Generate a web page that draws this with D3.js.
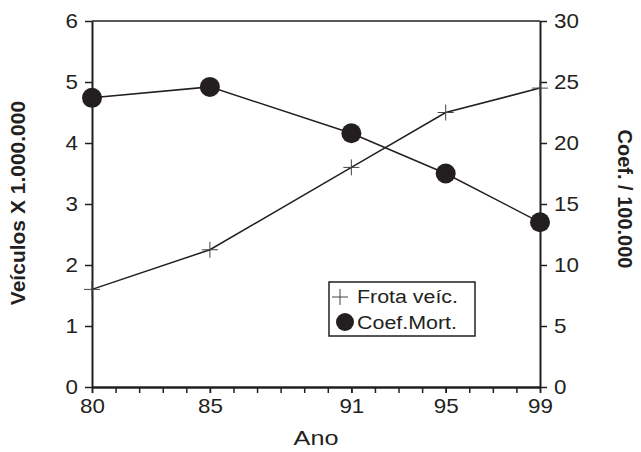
<!DOCTYPE html>
<html>
<head>
<meta charset="utf-8">
<script src="https://cdn.jsdelivr.net/npm/d3@7"></script>
<style>
  body { margin: 0; background: #fff; }
  text { font-family: 'Liberation Sans', Arial, sans-serif; fill: #231f20; }
</style>
</head>
<body>
<div id="chart"></div>
<script>
const years = [80, 85, 91, 95, 99]
const yearTicks = [80, 85, 91, 95, 99]
const frota = [1.6, 2.25, 3.6, 4.5, 4.9]         // veículos x 1.000.000
const coefMort = [23.7, 24.6, 20.8, 17.5, 13.5]  // coef. / 100.000

const width = 641
const height = 452
const margin = { top: 21, right: 101, bottom: 65, left: 92 }
const ink = '#231f20'
const stretch = 1.12 // the scanned figure is a bit wider than tall

const x = d3.scaleLinear()
  .domain([80, 99])
  .range([margin.left, width - margin.right])

const yLeft = d3.scaleLinear()
  .domain([0, 6])
  .range([height - margin.bottom, margin.top])

const yRight = d3.scaleLinear()
  .domain([0, 30])
  .range([height - margin.bottom, margin.top])

const svg = d3.select('#chart')
  .append('svg')
  .attr('width', width)
  .attr('height', height)

// top border
svg.append('line')
  .attr('x1', x(80)).attr('x2', x(99))
  .attr('y1', yLeft(6)).attr('y2', yLeft(6))
  .attr('stroke', ink).attr('stroke-width', 1.5)

const styleAxis = g => {
  g.select('.domain').attr('stroke', ink).attr('stroke-width', 2)
  g.selectAll('.tick line').attr('stroke', ink).attr('stroke-width', 1.5)
  g.selectAll('.tick text')
    .attr('font-size', 20)
    .attr('fill', ink)
    .attr('transform', `scale(${stretch}, 1)`)
}

// minor year ticks on x
svg.append('g')
  .attr('transform', `translate(0, ${yLeft(0)})`)
  .call(d3.axisBottom(x).tickValues(d3.range(80, 100)).tickSize(6).tickSizeOuter(0).tickFormat(''))
  .call(styleAxis)

svg.append('g')
  .attr('transform', `translate(0, ${yLeft(0)})`)
  .call(d3.axisBottom(x).tickValues(yearTicks).tickSize(6).tickSizeOuter(0).tickPadding(6))
  .call(styleAxis)

svg.append('g')
  .attr('transform', `translate(${x(80)}, 0)`)
  .call(d3.axisLeft(yLeft).ticks(6).tickSize(7).tickSizeOuter(0))
  .call(styleAxis)
  .call(g => g.selectAll('.tick text').attr('x', -14 / stretch))

svg.append('g')
  .attr('transform', `translate(${x(99)}, 0)`)
  .call(d3.axisRight(yRight).tickValues(d3.range(0, 31, 5)).tickSize(7).tickSizeOuter(0))
  .call(styleAxis)
  .call(g => g.selectAll('.tick text').attr('x', 14 / stretch))

// axis titles
svg.append('text')
  .attr('transform', `translate(${(x(80) + x(99)) / 2}, 445) scale(1.2, 1)`)
  .attr('text-anchor', 'middle')
  .attr('font-size', 21)
  .text('Ano')

svg.append('text')
  .attr('transform', `translate(25, ${yLeft(3) - 1}) rotate(-90)`)
  .attr('text-anchor', 'middle')
  .attr('font-size', 21)
  .attr('font-weight', 'bold')
  .text('Veículos X 1.000.000')

svg.append('text')
  .attr('transform', `translate(618, 199) rotate(90)`)
  .attr('text-anchor', 'middle')
  .attr('font-size', 20)
  .attr('font-weight', 'bold')
  .text('Coef. / 100.000')

// series
const frotaLine = d3.line()
  .x((d, i) => x(years[i]))
  .y(d => yLeft(d))

const coefLine = d3.line()
  .x((d, i) => x(years[i]))
  .y(d => yRight(d))

svg.append('path')
  .datum(frota)
  .attr('d', frotaLine)
  .attr('fill', 'none')
  .attr('stroke', ink)
  .attr('stroke-width', 1.5)

svg.append('path')
  .datum(coefMort)
  .attr('d', coefLine)
  .attr('fill', 'none')
  .attr('stroke', ink)
  .attr('stroke-width', 1.5)

const plus = (g, cx, cy, s) => {
  g.append('path')
    .attr('d', `M${cx - s},${cy}H${cx + s}M${cx},${cy - s}V${cy + s}`)
    .attr('stroke', '#444')
    .attr('stroke-width', 1)
    .attr('fill', 'none')
}

frota.forEach((d, i) => plus(svg, x(years[i]), yLeft(d), 8))

svg.selectAll('circle.coef')
  .data(coefMort)
  .join('circle')
  .attr('class', 'coef')
  .attr('cx', (d, i) => x(years[i]))
  .attr('cy', d => yRight(d))
  .attr('r', 10)
  .attr('fill', ink)

// legend
const legend = svg.append('g').attr('transform', 'translate(329, 282)')
legend.append('rect')
  .attr('width', 146).attr('height', 54)
  .attr('fill', '#fff')
  .attr('stroke', ink).attr('stroke-width', 1.5)
plus(legend, 11, 15, 8)
legend.append('circle').attr('cx', 16).attr('cy', 40).attr('r', 9).attr('fill', ink)
legend.append('text').attr('x', 28).attr('y', 21).attr('font-size', 18)
  .attr('textLength', 101).attr('lengthAdjust', 'spacingAndGlyphs').text('Frota veíc.')
legend.append('text').attr('x', 28).attr('y', 47).attr('font-size', 18)
  .attr('textLength', 100).attr('lengthAdjust', 'spacingAndGlyphs').text('Coef.Mort.')
</script>
</body>
</html>
